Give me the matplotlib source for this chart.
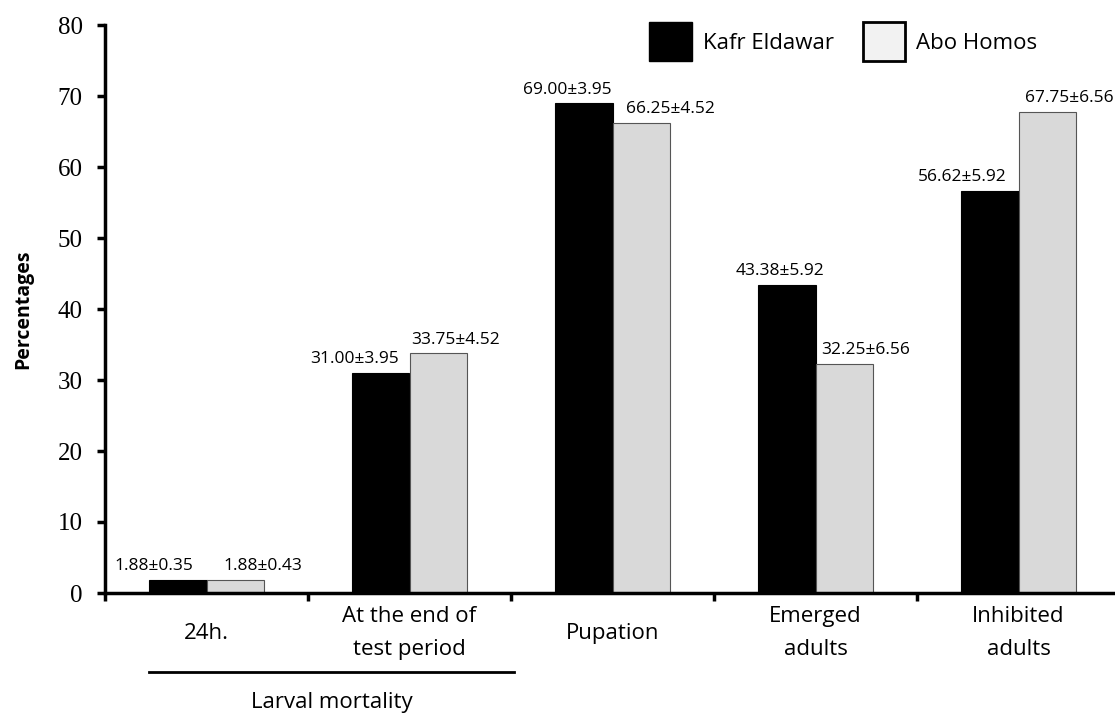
import numpy as np
import matplotlib.pyplot as plt
from matplotlib.patches import Patch

# Percentages for each stage and location
categories = ['24h.', 'At the end of\ntest period', 'Pupation', 'Emerged\nadults', 'Inhibited\nadults']
kafr_mean = [1.88, 31.00, 69.00, 43.38, 56.62]
kafr_se = [0.35, 3.95, 3.95, 5.92, 5.92]
abo_mean = [1.88, 33.75, 66.25, 32.25, 67.75]
abo_se = [0.43, 4.52, 4.52, 6.56, 6.56]
yticks = [0, 10, 20, 30, 40, 50, 60, 70, 80]

# horizontal nudge (points) for the value labels
kafr_dx = [-17, -19, -12, -5, -20]
abo_dx = [20, 12, 21, 15, 16]

sans = ['Open Sans', 'DejaVu Sans']
serif = ['Liberation Serif', 'DejaVu Serif']

fig = plt.figure(figsize=(11.15, 7.14), dpi=100)
ax = fig.add_axes([105/1115, 1-593/714, 1015/1115, 568/714])

x = np.arange(len(categories))
w = 0.285
ax.bar(x - w/2, kafr_mean, w, color='black', edgecolor='black', linewidth=0.8)
ax.bar(x + w/2, abo_mean, w, color='#d9d9d9', edgecolor='#555555', linewidth=0.8)

for i in range(len(x)):
    ax.annotate(f'{kafr_mean[i]:.2f}±{kafr_se[i]:.2f}', (x[i] - w/2, kafr_mean[i]),
                xytext=(kafr_dx[i], 4), textcoords='offset points',
                ha='center', va='bottom', fontsize=12.5, family=sans)
    ax.annotate(f'{abo_mean[i]:.2f}±{abo_se[i]:.2f}', (x[i] + w/2, abo_mean[i]),
                xytext=(abo_dx[i], 4), textcoords='offset points',
                ha='center', va='bottom', fontsize=12.5, family=sans)

ax.set_xlim(-0.5, len(x) - 0.5)
ax.set_ylim(0, 80)
ax.set_yticks(yticks)
ax.set_yticklabels([str(v) for v in yticks], family=serif, fontsize=18)

# boundary ticks between groups, labels centred on groups
ax.set_xticks(np.arange(len(x) + 1) - 0.5)
ax.set_xticklabels([])
ax.set_xticks(x, minor=True)
ax.set_xticklabels(categories, minor=True, fontsize=16, family=sans, linespacing=1.75, va='center')
ax.tick_params(axis='x', which='minor', length=0, pad=29)
ax.tick_params(axis='x', which='major', length=6, width=2.5, direction='out')
ax.tick_params(axis='y', length=6, width=2.5, direction='out', pad=10)

for s in ['top', 'right']:
    ax.spines[s].set_visible(False)
ax.spines['left'].set_linewidth(2.5)
ax.spines['bottom'].set_linewidth(2.5)

ax.set_ylabel('Percentages', fontsize=14, fontweight='bold', family=sans, labelpad=18)

# bracket under the two larval mortality groups
trans = ax.get_xaxis_transform()
ax.plot([-0.283, 1.515], [-0.139, -0.139], color='black', lw=2, transform=trans, clip_on=False)
ax.text(0.618, -0.192, 'Larval mortality', transform=trans, ha='center', va='center',
        fontsize=16, family=sans)

handles = [Patch(facecolor='black', edgecolor='black', linewidth=1),
           Patch(facecolor='#f2f2f2', edgecolor='black', linewidth=2)]
ax.legend(handles, ['Kafr Eldawar', 'Abo Homos'], loc='upper right', bbox_to_anchor=(0.938, 1.04),
          ncol=2, frameon=False, prop={'family': sans, 'size': 16},
          handlelength=1.9, handleheight=2.3, columnspacing=1.3, handletextpad=0.5)

fig.savefig('out.png', dpi=100)
